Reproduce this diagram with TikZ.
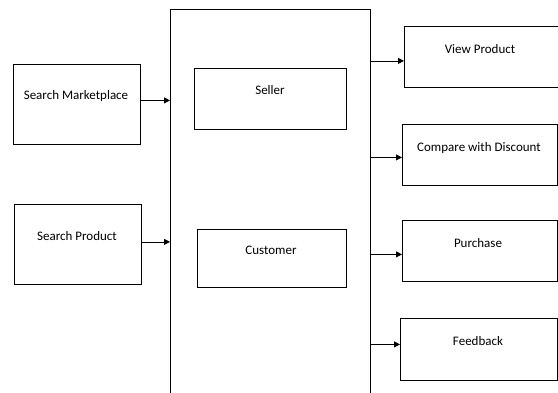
\documentclass[tikz,border=0pt]{standalone}
\usepackage{fontspec}
\setmainfont{Carlito}
\usetikzlibrary{arrows.meta}
\begin{document}
\begin{tikzpicture}[x=1pt,y=-1pt,
  boxn/.style={draw,line width=0.8pt,inner sep=0pt,anchor=north west},
  lbl/.style={font=\fontsize{13}{15}\selectfont,inner sep=0pt,anchor=center},
  arr/.style={line width=0.8pt,-{Triangle[length=6pt,width=6pt]}}]
\useasboundingbox (0,0) rectangle (558,392);
% outer frame (open at the bottom of the picture)
\node[anchor=north west,minimum width=200pt,minimum height=390pt,inner sep=0pt] (frame) at (170,9) {};
\draw[line width=0.8pt] (frame.south west) -- (frame.north west) -- (frame.north east) -- (frame.south east);
% left boxes
\node[boxn,minimum width=127pt,minimum height=80pt] (sm) at (13,64) {};
\node[lbl] (smt) at (76,96) {Search Marketplace};
\node[boxn,minimum width=127pt,minimum height=80pt] (sp) at (14,204) {};
\node[lbl] (spt) at (77,236) {Search Product};
% inner boxes
\node[boxn,minimum width=152pt,minimum height=61pt] (se) at (194,68) {};
\node[lbl] (set) at (270,90) {Seller};
\node[boxn,minimum width=149pt,minimum height=58pt] (cu) at (197,229) {};
\node[lbl] (cut) at (271,250) {Customer};
% right boxes
\node[boxn,minimum width=154pt,minimum height=61pt] (vp) at (404,26) {};
\node[lbl] (vpt) at (480,49) {View Product};
\node[boxn,minimum width=155pt,minimum height=61pt] (cd) at (402,124) {};
\node[lbl] (cdt) at (479,148) {Compare with Discount};
\node[boxn,minimum width=155pt,minimum height=61pt] (pu) at (402,220) {};
\node[lbl] (put) at (478,243) {Purchase};
\node[boxn,minimum width=157pt,minimum height=62pt] (fb) at (400,318) {};
\node[lbl] (fbt) at (478,341) {Feedback};
% connectors
\draw[arr] ([yshift=4pt]sm.east) -- ([yshift=4pt]sm.east -| frame.west);
\draw[arr] ([yshift=2.5pt]sp.east) -- ([yshift=2.5pt]sp.east -| frame.west);
\draw[arr] ([yshift=-4pt]frame.east |- vp.west) -- ([yshift=-4pt]vp.west);
\draw[arr] ([yshift=-2.5pt]frame.east |- cd.west) -- ([yshift=-2.5pt]cd.west);
\draw[arr] ([yshift=-3.5pt]frame.east |- pu.west) -- ([yshift=-3.5pt]pu.west);
\draw[arr] ([yshift=5pt]frame.east |- fb.west) -- ([yshift=5pt]fb.west);
\end{tikzpicture}
\end{document}
